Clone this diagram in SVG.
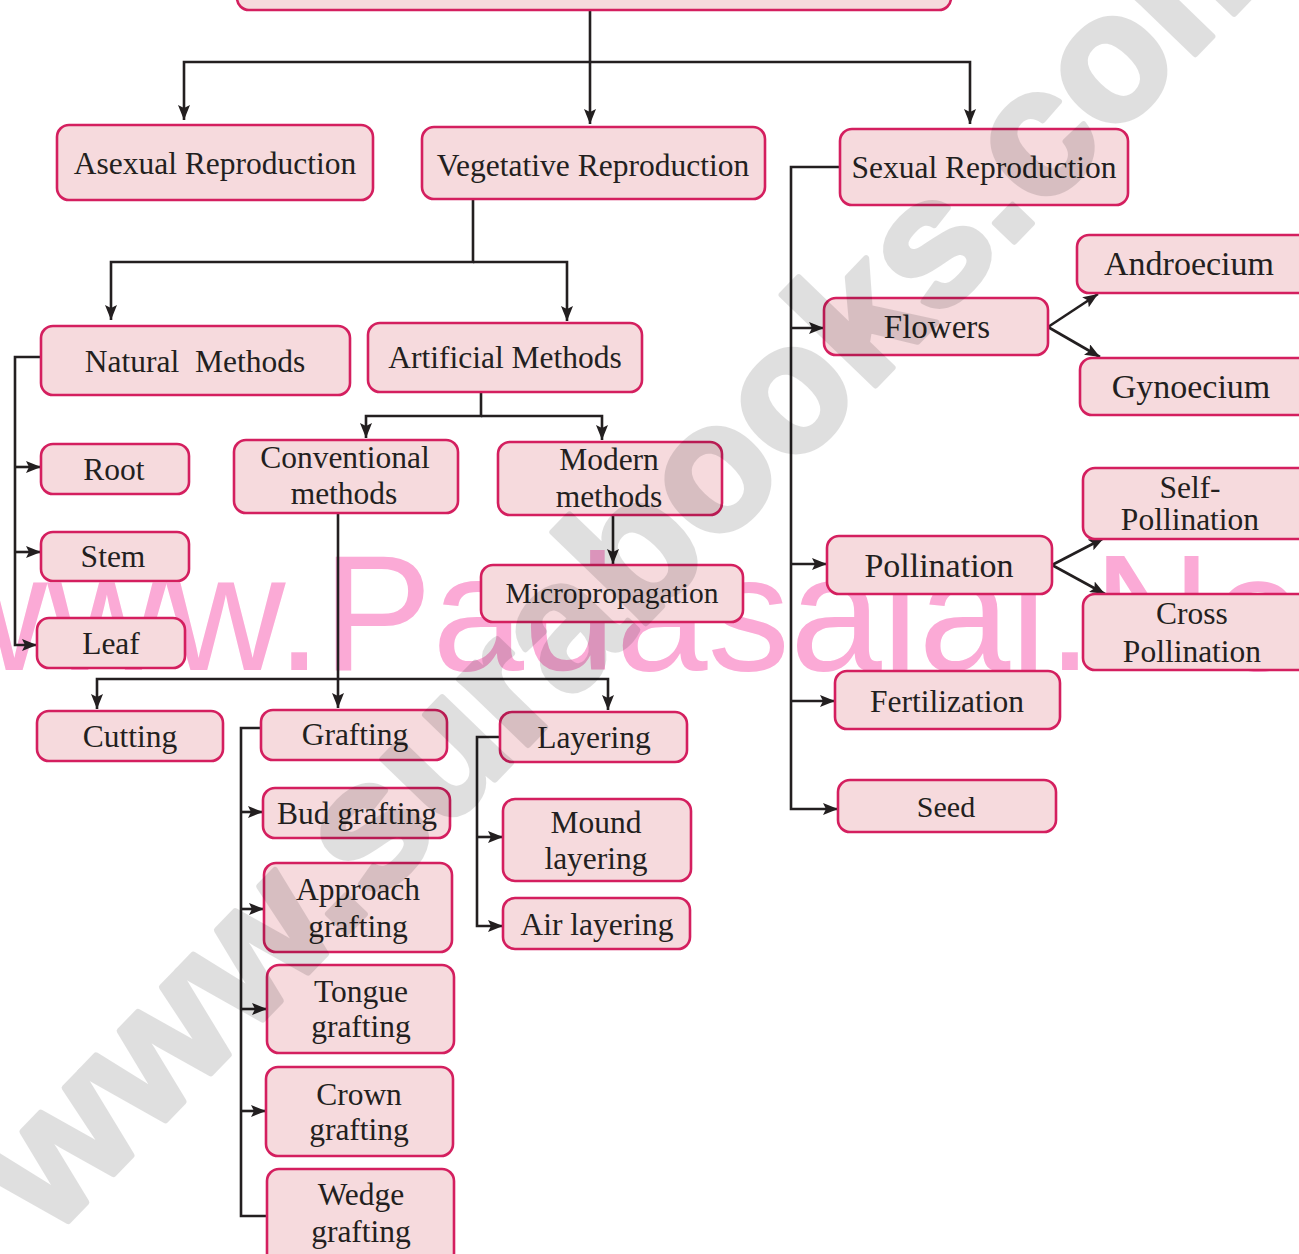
<svg xmlns="http://www.w3.org/2000/svg" width="1299" height="1254" viewBox="0 0 1299 1254">
<defs>
<marker id="ah" markerUnits="userSpaceOnUse" markerWidth="15" markerHeight="12" refX="15" refY="6" orient="auto">
<path d="M0,0 L15,6 L0,12 L3,6 z" fill="#231f20"/>
</marker>
<style>
.box{fill:#f6dadd;stroke:#d41f5f;stroke-width:2.6}
.t{font-family:"Liberation Serif","Times New Roman",serif;font-size:31.5px;fill:#231f20;text-anchor:middle;white-space:pre}
.big{font-size:34px}
.c{fill:none;stroke:#231f20;stroke-width:2.6}
.ca{fill:none;stroke:#231f20;stroke-width:2.6;marker-end:url(#ah)}
.wm1{font-family:"Liberation Sans",Arial,sans-serif;font-size:165px;fill:#fbaad6}
.wm2{font-family:"Liberation Sans",Arial,sans-serif;font-weight:bold;font-size:180px;fill:#000;stroke:#000;stroke-width:6;stroke-linejoin:round}
</style>
</defs>
<rect width="1299" height="1254" fill="#ffffff"/>
<text class="wm1" x="-72" y="670">www.Padasalai.Net</text>

<g id="connectors">
<path class="ca" d="M590,11 V124"/>
<path class="ca" d="M590,62 H184 V120"/>
<path class="ca" d="M590,62 H970 V124"/>
<path class="ca" d="M473,200 V262 H111 V320"/>
<path class="ca" d="M473,262 H567 V321"/>
<path class="ca" d="M481,393 V416 H366 V438"/>
<path class="ca" d="M481,416 H602 V440"/>
<path class="ca" d="M613,515 V564"/>
<path class="ca" d="M41,357 H15 V645 H37"/>
<path class="ca" d="M15,467 H41"/>
<path class="ca" d="M15,552 H41"/>
<path class="ca" d="M338,513 V708"/>
<path class="ca" d="M338,679 H97 V709"/>
<path class="ca" d="M338,679 H608 V710"/>
<path class="c" d="M261,728 H241 V1216 H267"/>
<path class="ca" d="M241,812 H263"/>
<path class="ca" d="M241,909 H264"/>
<path class="ca" d="M241,1009 H267"/>
<path class="ca" d="M241,1111 H266"/>
<path class="ca" d="M500,737 H477 V926 H503"/>
<path class="ca" d="M477,837 H503"/>
<path class="ca" d="M840,167 H791 V809 H838"/>
<path class="ca" d="M791,328 H824"/>
<path class="ca" d="M791,564 H827"/>
<path class="ca" d="M791,701 H835"/>
<path class="ca" d="M1048,327 L1098,294"/>
<path class="ca" d="M1048,327 L1100,357"/>
<path class="ca" d="M1052,565 L1104,538"/>
<path class="ca" d="M1052,565 L1105,594"/>
</g>

<g id="top"><rect class="box" x="237" y="-30" width="714" height="40" rx="12"/></g>
<g id="asexual"><rect class="box" x="57" y="125" width="316" height="75" rx="12"/><text class="t" x="215" y="174">Asexual Reproduction</text></g>
<g id="vegetative"><rect class="box" x="422" y="127" width="343" height="72" rx="12"/><text class="t" x="593" y="176">Vegetative Reproduction</text></g>
<g id="sexual"><rect class="box" x="840" y="129" width="288" height="76" rx="12"/><text class="t" x="984" y="178">Sexual Reproduction</text></g>
<g id="natural"><rect class="box" x="41" y="326" width="309" height="69" rx="12"/><text class="t" x="195" y="372">Natural  Methods</text></g>
<g id="artificial"><rect class="box" x="368" y="323" width="274" height="69" rx="12"/><text class="t" x="505" y="368">Artificial Methods</text></g>
<g id="conventional"><rect class="box" x="234" y="440" width="224" height="73" rx="12"/><text class="t" x="345" y="468">Conventional</text><text class="t" x="344" y="504">methods</text></g>
<g id="modern"><rect class="box" x="498" y="442" width="224" height="73" rx="12"/><text class="t" x="609" y="470">Modern</text><text class="t" x="609" y="507">methods</text></g>
<g id="micropropagation"><rect class="box" x="481" y="565" width="262" height="57" rx="12"/><text class="t" x="612" y="603" style="font-size:29.5px">Micropropagation</text></g>
<g id="root"><rect class="box" x="41" y="444" width="148" height="50" rx="12"/><text class="t" x="114" y="480">Root</text></g>
<g id="stem"><rect class="box" x="41" y="532" width="148" height="49" rx="12"/><text class="t" x="113" y="567">Stem</text></g>
<g id="leaf"><rect class="box" x="37" y="618" width="148" height="50" rx="12"/><text class="t" x="111" y="654">Leaf</text></g>
<g id="cutting"><rect class="box" x="37" y="711" width="186" height="50" rx="12"/><text class="t" x="130" y="747">Cutting</text></g>
<g id="grafting"><rect class="box" x="261" y="710" width="186" height="50" rx="12"/><text class="t" x="355" y="745">Grafting</text></g>
<g id="layering"><rect class="box" x="500" y="712" width="187" height="50" rx="12"/><text class="t" x="594" y="748">Layering</text></g>
<g id="bud"><rect class="box" x="263" y="788" width="187" height="50" rx="12"/><text class="t" x="357" y="824">Bud grafting</text></g>
<g id="approach"><rect class="box" x="264" y="863" width="188" height="89" rx="12"/><text class="t" x="358" y="900">Approach</text><text class="t" x="358" y="937">grafting</text></g>
<g id="tongue"><rect class="box" x="267" y="965" width="187" height="88" rx="12"/><text class="t" x="361" y="1002">Tongue</text><text class="t" x="361" y="1037">grafting</text></g>
<g id="crown"><rect class="box" x="266" y="1067" width="187" height="89" rx="12"/><text class="t" x="359" y="1105">Crown</text><text class="t" x="359" y="1140">grafting</text></g>
<g id="wedge"><rect class="box" x="267" y="1169" width="187" height="110" rx="12"/><text class="t" x="361" y="1205">Wedge</text><text class="t" x="361" y="1242">grafting</text></g>
<g id="mound"><rect class="box" x="503" y="799" width="188" height="82" rx="12"/><text class="t" x="596" y="833">Mound</text><text class="t" x="596" y="869">layering</text></g>
<g id="air"><rect class="box" x="503" y="898" width="187" height="51" rx="12"/><text class="t" x="597" y="935">Air layering</text></g>
<g id="flowers"><rect class="box" x="824" y="298" width="224" height="57" rx="12"/><text class="t" x="937" y="338" style="font-size:33px">Flowers</text></g>
<g id="androecium"><rect class="box" x="1077" y="235" width="240" height="58" rx="12"/><text class="t big" x="1189" y="275">Androecium</text></g>
<g id="gynoecium"><rect class="box" x="1080" y="358" width="240" height="57" rx="12"/><text class="t big" x="1191" y="398">Gynoecium</text></g>
<g id="pollination"><rect class="box" x="827" y="536" width="225" height="58" rx="12"/><text class="t big" x="939" y="577">Pollination</text></g>
<g id="self"><rect class="box" x="1083" y="468" width="240" height="71" rx="12"/><text class="t" x="1190" y="498">Self-</text><text class="t" x="1190" y="530">Pollination</text></g>
<g id="cross"><rect class="box" x="1083" y="594" width="240" height="76" rx="12"/><text class="t" x="1192" y="624">Cross</text><text class="t" x="1192" y="662">Pollination</text></g>
<g id="fertilization"><rect class="box" x="835" y="671" width="225" height="58" rx="12"/><text class="t" x="947" y="712">Fertilization</text></g>
<g id="seed"><rect class="box" x="838" y="780" width="218" height="52" rx="12"/><text class="t" x="946" y="817" style="font-size:30px">Seed</text></g>

<g opacity="0.12"><text class="wm2" x="640" y="608" text-anchor="middle" transform="rotate(-46 640 560)">www.surabooks.com</text></g>
</svg>
